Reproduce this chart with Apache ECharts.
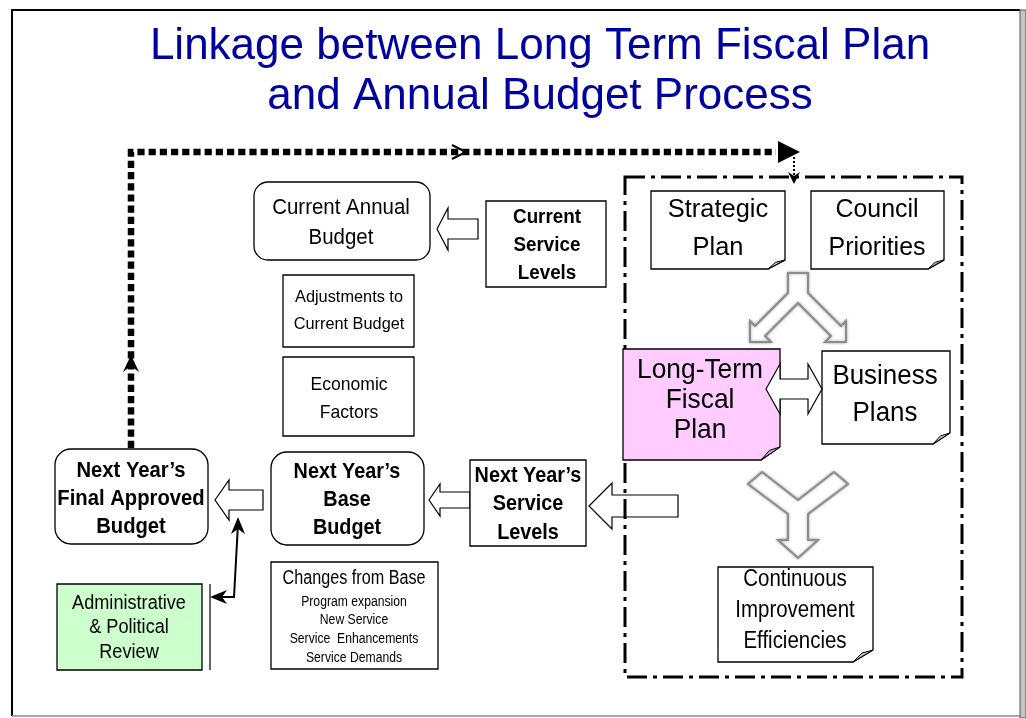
<!DOCTYPE html>
<html>
<head>
<meta charset="utf-8">
<title>Linkage between Long Term Fiscal Plan and Annual Budget Process</title>
<script src="https://cdn.jsdelivr.net/npm/echarts@6/dist/echarts.min.js"></script>
<style>
  html, body { margin: 0; padding: 0; background: #fff; }
  #chart { width: 1026px; height: 718px; }
</style>
</head>
<body>
<div id="chart"></div>
<script>
// Texts of the diagram
var titleLines = ['Linkage between Long Term Fiscal Plan', 'and Annual Budget Process'];
var roundedLabels = ['Current Annual\nBudget', 'Next Year\u2019s\nFinal Approved\nBudget', 'Next Year\u2019s\nBase\nBudget'];
var plainLabels = ['Current\nService\nLevels', 'Adjustments to\nCurrent Budget', 'Economic\nFactors', 'Next Year\u2019s\nService\nLevels', 'Administrative\n& Political\nReview'];
var noteLabels = ['Strategic\nPlan', 'Council\nPriorities', 'Long-Term\nFiscal\nPlan', 'Business\nPlans', 'Continuous\nImprovement\nEfficiencies'];
var changesTitle = 'Changes from Base';
var changesItems = ['Program expansion', 'New Service', 'Service  Enhancements', 'Service Demands'];

// Layout, in units of the hidden 1026 x 718 axes (kept apart from the texts)
// t: text centre, font size, horizontal squeeze k, line height
var roundedLayout = [
	{ b: [254, 182, 430, 260], r: 14, t: { cx: 341, cy: 223, size: 22, k: 0.93, lh: 30 } },
	{ b: [55, 449, 208, 544], r: 16, t: { cx: 131, cy: 499, size: 22, k: 0.92, lh: 28, bold: true } },
	{ b: [271, 452, 424, 545], r: 16, t: { cx: 347, cy: 500, size: 22, k: 0.9, lh: 28, bold: true } }
];
var plainLayout = [
	{ b: [486, 201, 606, 287], t: { cx: 547, cy: 245, size: 20, k: 0.94, lh: 28, bold: true } },
	{ b: [283, 275, 414, 347], t: { cx: 349, cy: 311, size: 17, k: 0.96, lh: 27 } },
	{ b: [283, 357, 414, 436], t: { cx: 349, cy: 399, size: 18.5, k: 0.95, lh: 28 } },
	{ b: [470, 460, 586, 546], t: { cx: 528, cy: 504, size: 22, k: 0.9, lh: 28.5, bold: true } },
	{ b: [57, 584, 202, 670], fill: '#ccffcc', t: { cx: 129, cy: 628, size: 19.5, k: 0.93, lh: 24.5 } }
];
var noteLayout = [
	{ b: [651, 191, 785, 269], fold: [17, 9], t: { cx: 718, cy: 229, size: 26.5, k: 0.96, lh: 38 } },
	{ b: [811, 191, 944, 269], fold: [16, 9], t: { cx: 877, cy: 229, size: 26.5, k: 0.94, lh: 38 } },
	{ b: [623, 349, 780, 460], fold: [19, 13], fill: '#ffccff', foldFill: '#c8a8c8', t: { cx: 700, cy: 400, size: 28, k: 0.94, lh: 30 } },
	{ b: [822, 351, 950, 444], fold: [17, 11], t: { cx: 885, cy: 395, size: 27, k: 0.96, lh: 37 } },
	{ b: [718, 567, 873, 662], fold: [20, 12], t: { cx: 795, cy: 611, size: 23, k: 0.89, lh: 31 } }
];
var changesLayout = { b: [271, 562, 438, 669], titleY: 579, itemY: [602, 620, 639, 658], cx: 354 };
// left pointing block arrows: tip x, tip y, head base x, head half height, shaft half height, shaft end x
var blockArrows = [[437, 229, 448, 21, 10, 478], [215, 500, 229, 20, 10, 263], [429, 500, 440, 16, 8, 470], [589, 506, 612, 23, 11, 678]];
var boxFont = "'Liberation Sans', Arial, sans-serif";

function pts(api, list) {
	return list.map(function (p) { return api.coord(p); });
}
function box(api, b) {
	var a = api.coord([b[0], b[1]]), c = api.coord([b[2], b[3]]);
	return { x: a[0], y: a[1], width: c[0] - a[0], height: c[1] - a[1] };
}
function txt(api, text, t) {
	var p = api.coord([t.cx, t.cy]);
	return {
		type: 'text',
		x: p[0], y: p[1], scaleX: t.k || 1,
		style: {
			text: text, x: 0, y: 0, fill: '#000',
			font: (t.bold ? 'bold ' : '') + t.size + 'px ' + boxFont,
			lineHeight: t.lh, align: 'center', verticalAlign: 'middle',
			textAlign: 'center', textVerticalAlign: 'middle'
		}
	};
}
function idx(list) {
	return list.map(function (v, i) { return [i, 0]; });
}

var chart = echarts.init(document.getElementById('chart'));

var option = {
	animation: false,
	title: {
		text: titleLines.join('\n'),
		left: 540, top: 22, textAlign: 'center', padding: 0,
		textStyle: {
			fontFamily: 'Liberation Sans', fontSize: 44, fontWeight: 'normal',
			color: '#00009e', lineHeight: 50,
			textShadowColor: '#b4b4b4', textShadowOffsetX: 2, textShadowOffsetY: 2, textShadowBlur: 0
		}
	},
	grid: { left: 0, right: 0, top: 0, bottom: 0, containLabel: false },
	xAxis: { type: 'value', min: 0, max: 1026, show: false },
	yAxis: { type: 'value', min: 0, max: 718, inverse: true, show: false },
	series: [
		// Page frame
		{
			type: 'custom', z: 1, silent: true, data: [[0, 0]],
			renderItem: function (params, api) {
				return {
					type: 'group', children: [
						{ type: 'polyline', shape: { points: pts(api, [[12, 716], [12, 10], [1020, 10]]) }, style: { stroke: '#000', lineWidth: 2, fill: null } },
						{ type: 'polyline', shape: { points: pts(api, [[12, 716], [1020, 716]]) }, style: { stroke: '#8a8a8a', lineWidth: 1.5, fill: null } },
						{ type: 'rect', shape: box(api, [1020, 10, 1026, 718]), style: { fill: '#c4c4c4', stroke: '#555', lineWidth: 1 } }
					]
				};
			}
		},
		// Thick dotted feedback loop
		{
			type: 'custom', z: 2, silent: true, data: [[0, 0]],
			renderItem: function (params, api) {
				return {
					type: 'group', children: [
						{ type: 'polyline', shape: { points: pts(api, [[131, 448], [131, 152], [776, 152]]) }, style: { stroke: '#000', lineWidth: 6.5, lineDash: [7.2, 4], fill: null } },
						{ type: 'polygon', shape: { points: pts(api, [[778, 141], [800, 152], [778, 163]]) }, style: { fill: '#000' } },
						{ type: 'polyline', shape: { points: pts(api, [[452, 145], [466, 152], [452, 159]]) }, style: { stroke: '#000', lineWidth: 2, fill: null } },
						{ type: 'polygon', shape: { points: pts(api, [[131, 355], [139, 372], [131, 366], [123, 372]]) }, style: { fill: '#000' } },
						{ type: 'polyline', shape: { points: pts(api, [[794, 157], [794, 178]]) }, style: { stroke: '#000', lineWidth: 2, lineDash: [2, 2], fill: null } },
						{ type: 'polygon', shape: { points: pts(api, [[788, 172], [794, 184], [800, 172], [794, 176]]) }, style: { fill: '#000' } }
					]
				};
			}
		},
		// Left pointing block arrows
		{
			type: 'custom', z: 3, silent: true, data: idx(blockArrows),
			renderItem: function (params, api) {
				var a = blockArrows[params.dataIndex];
				var tx = a[0], ty = a[1], hb = a[2], hh = a[3], sh = a[4], se = a[5];
				return {
					type: 'polygon',
					shape: { points: pts(api, [[tx, ty], [hb, ty - hh], [hb, ty - sh], [se, ty - sh], [se, ty + sh], [hb, ty + sh], [hb, ty + hh]]) },
					style: { fill: '#fff', stroke: '#000', lineWidth: 1.2 }
				};
			}
		},
		// Dash-dot frame of the planning block
		{
			type: 'custom', z: 4, silent: true, data: [[0, 0]],
			renderItem: function (params, api) {
				return { type: 'rect', shape: box(api, [625, 177, 962, 677]), style: { fill: null, stroke: '#000', lineWidth: 3, lineDash: [20, 6, 4, 6] } };
			}
		},
		// Rounded budget boxes
		{
			type: 'custom', z: 5, silent: true, data: idx(roundedLabels),
			renderItem: function (params, api) {
				var L = roundedLayout[params.dataIndex];
				var s = box(api, L.b);
				s.r = L.r;
				return {
					type: 'group', children: [
						{ type: 'rect', shape: s, style: { fill: '#fff', stroke: '#000', lineWidth: 1.3 } },
						txt(api, roundedLabels[params.dataIndex], L.t)
					]
				};
			}
		},
		// Plain boxes
		{
			type: 'custom', z: 5, silent: true, data: idx(plainLabels),
			renderItem: function (params, api) {
				var L = plainLayout[params.dataIndex];
				return {
					type: 'group', children: [
						{ type: 'rect', shape: box(api, L.b), style: { fill: L.fill || '#fff', stroke: '#000', lineWidth: 1.3 } },
						txt(api, plainLabels[params.dataIndex], L.t)
					]
				};
			}
		},
		// Notes with folded corner
		{
			type: 'custom', z: 6, silent: true, data: idx(noteLabels),
			renderItem: function (params, api) {
				var L = noteLayout[params.dataIndex];
				var b = L.b, f = L.fold[0], h = L.fold[1];
				return {
					type: 'group', children: [
						{ type: 'polygon', shape: { points: pts(api, [[b[0], b[1]], [b[2], b[1]], [b[2], b[3] - h], [b[2] - f, b[3]], [b[0], b[3]]]) }, style: { fill: L.fill || '#fff', stroke: '#000', lineWidth: 1.3 } },
						{ type: 'polygon', shape: { points: pts(api, [[b[2] - f, b[3]], [b[2], b[3] - h], [b[2] - f * 0.55, b[3] - h * 0.75]]) }, style: { fill: L.foldFill || '#c0c0c0', stroke: '#000', lineWidth: 1 } },
						txt(api, noteLabels[params.dataIndex], L.t)
					]
				};
			}
		},
		// Changes from Base box
		{
			type: 'custom', z: 6, silent: true, data: [[0, 0]],
			renderItem: function (params, api) {
				var L = changesLayout;
				var children = [
					{ type: 'rect', shape: box(api, L.b), style: { fill: '#fff', stroke: '#000', lineWidth: 1.3 } },
					txt(api, changesTitle, { cx: L.cx, cy: L.titleY, size: 19.5, k: 0.83, lh: 20 })
				];
				changesItems.forEach(function (item, i) {
					children.push(txt(api, item, { cx: L.cx, cy: L.itemY[i], size: 14, k: 0.87, lh: 18 }));
				});
				return { type: 'group', children: children };
			}
		},
		// Grey split / merge arrows, double arrow and review connector
		{
			type: 'custom', z: 7, silent: true, data: [[0, 0]],
			renderItem: function (params, api) {
				var grey = { fill: '#fff', stroke: '#8c8c8c', lineWidth: 2, shadowBlur: 3, shadowColor: 'rgba(0,0,0,0.35)' };
				return {
					type: 'group', children: [
						{ type: 'polygon', shape: { points: pts(api, [[788, 273], [808, 273], [808, 293], [841, 326], [846, 321], [846, 342], [825, 342], [831, 336], [798, 303], [765, 336], [771, 342], [750, 342], [750, 321], [755, 326], [788, 293]]) }, style: grey },
						{ type: 'polygon', shape: { points: pts(api, [[748, 484], [762, 472], [798, 500], [834, 472], [848, 484], [808, 514], [808, 540], [818, 540], [798, 558], [778, 540], [788, 540], [788, 514]]) }, style: grey },
						{ type: 'polygon', shape: { points: pts(api, [[766, 389], [780, 364], [780, 379], [808, 379], [808, 364], [822, 389], [808, 414], [808, 399], [780, 399], [780, 414]]) }, style: { fill: '#fff', stroke: '#000', lineWidth: 1.2 } },
						{ type: 'polyline', shape: { points: pts(api, [[210, 584], [210, 670]]) }, style: { stroke: '#333', lineWidth: 1.5, fill: null } },
						{ type: 'polyline', shape: { points: pts(api, [[238, 524], [234, 597], [216, 597]]) }, style: { stroke: '#000', lineWidth: 2, fill: null } },
						{ type: 'polygon', shape: { points: pts(api, [[238, 517], [245, 534], [238, 529], [231, 534]]) }, style: { fill: '#000' } },
						{ type: 'polygon', shape: { points: pts(api, [[210, 597], [227, 590], [222, 597], [227, 604]]) }, style: { fill: '#000' } }
					]
				};
			}
		}
	]
};

chart.setOption(option);

window.addEventListener('resize', function () {
	chart.resize();
});
</script>
</body>
</html>
